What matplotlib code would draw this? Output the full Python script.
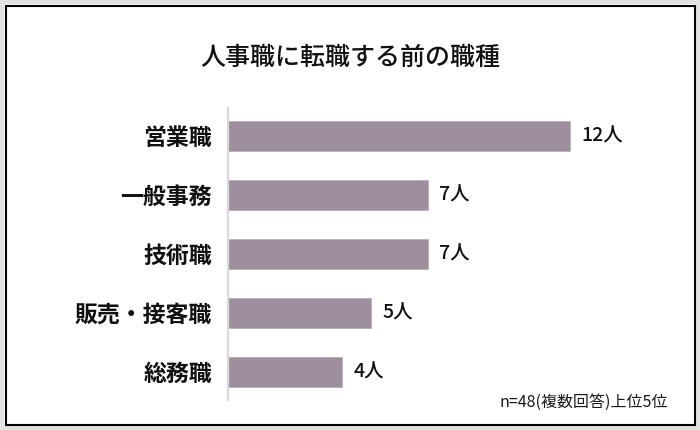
import matplotlib
matplotlib.use('Agg')
import matplotlib.pyplot as plt
from matplotlib.patches import Rectangle

plt.rcParams['font.family'] = ['Noto Sans CJK JP', 'DejaVu Sans']

# data
categories = ['営業職', '一般事務', '技術職', '販売・接客職', '総務職']
counts = [12, 7, 7, 5, 4]
title = '人事職に転職する前の職種'
note = 'n=48(複数回答)上位5位'

bar_color = '#9e8f9e'

fig = plt.figure(figsize=(7, 4.3), dpi=100)

# outer frame: thin gray band, then black line
W, H = 700, 430
fig.patches.append(Rectangle((0, 0), 1, 1, transform=fig.transFigure,
                             facecolor='#e2e2e2', edgecolor='none', zorder=-3))
fig.patches.append(Rectangle((4 / W, 4 / H), 692 / W, 422 / H, transform=fig.transFigure,
                             facecolor='white', edgecolor='none', zorder=-2))
fig.patches.append(Rectangle((5.5 / W, 5.5 / H), 689 / W, 419 / H, transform=fig.transFigure,
                             facecolor='none', edgecolor='black', linewidth=1.5, zorder=-1))

ax = fig.add_axes([228 / W, 30 / H, 427.5 / W, 292 / H])
ax.set_facecolor('none')
ax.set_zorder(2)

y = list(range(len(categories)))
bars = ax.barh(y, counts, height=0.51, color=bar_color, edgecolor='#b9aeb9', linewidth=0.6)
ax.bar_label(bars, labels=[f'{c}人' for c in counts], padding=8.5, fontsize=14,
             fontweight='medium', color='#111111')

ax.set_xlim(0, 15)
ax.set_ylim(len(categories) - 0.525, -0.475)
ax.set_yticks(y, categories, fontsize=16.5, fontweight='bold', color='#111111')
ax.tick_params(axis='y', length=0, pad=11.5)
ax.set_xticks([])

for side in ['top', 'right', 'bottom']:
    ax.spines[side].set_visible(False)
ax.spines['left'].set_color('#d9d9d9')
ax.spines['left'].set_linewidth(1.6)

fig.text(350 / W, 1 - 58 / H, title, ha='center', va='center', fontsize=18,
         fontweight='medium', color='#111111')
fig.text(668 / W, 1 - 402 / H, note, ha='right', va='center', fontsize=11.5, color='#1a1a1a')

fig.savefig('out.png', dpi=100)
